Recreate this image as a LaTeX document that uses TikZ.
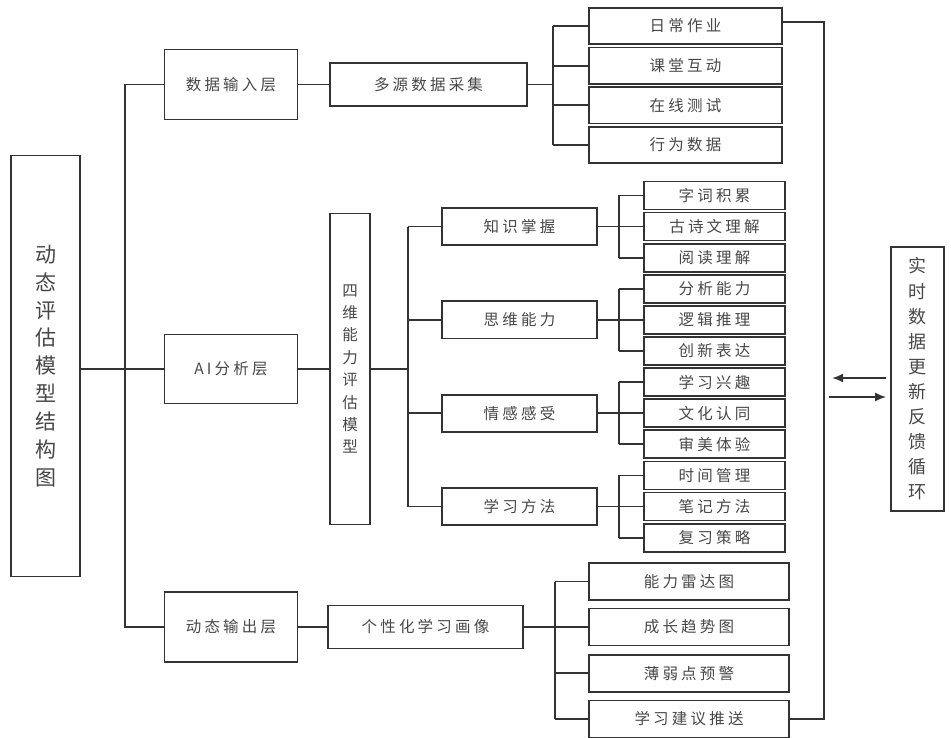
\documentclass[tikz,border=0pt]{standalone}
\usepackage{fontspec}
\setmainfont{Noto Sans CJK SC}
\usetikzlibrary{arrows.meta}
\definecolor{ln}{HTML}{333333}
\definecolor{tx}{HTML}{474747}
\makeatletter
\newcommand\spc[1]{\def\spc@first{1}\@tfor\spc@c:=#1\do{\ifx\spc@first\@empty\kern3.2pt\fi\spc@c\let\spc@first\@empty}}
\makeatother
\begin{document}
\begin{tikzpicture}[x=1pt,y=-1pt,
  box/.style={draw=ln, line width=1.8pt, text=tx, inner sep=0pt, font=\fontsize{15.5}{18}\selectfont},
  vbox/.style={box, align=center},
  conn/.style={draw=ln, line width=1.8pt},
  arr/.style={conn, -{Latex[length=11pt,width=9pt]}}]
\useasboundingbox (0,0) rectangle (951,738);
% root
\node[vbox, minimum width=69pt, minimum height=421pt, font=\fontsize{21}{27.9}\selectfont] (root) at (45.5,366) {动\\态\\评\\估\\模\\型\\结\\构\\图};
% level 1
\node[box, minimum width=133pt, minimum height=70pt] (in1) at (231,84.5) {\spc{数据输入层}};
\node[box, minimum width=133pt, minimum height=69pt] (ai) at (231,369) {\spc{AI分析层}};
\node[box, minimum width=133pt, minimum height=70pt] (out1) at (231,627) {\spc{动态输出层}};
% level 2
\node[box, minimum width=197pt, minimum height=43pt] (ms) at (428.5,84.5) {\spc{多源数据采集}};
\node[vbox, minimum width=40pt, minimum height=311pt, font=\fontsize{15.5}{22.4}\selectfont] (fd) at (350,369) {四\\维\\能\\力\\评\\估\\模\\型};
\node[box, minimum width=195pt, minimum height=43pt] (pers) at (425.5,627) {\spc{个性化学习画像}};
% input items
\node[box, minimum width=193pt, minimum height=36.5pt] (i1) at (685.5,26) {\spc{日常作业}};
\node[box, minimum width=193pt, minimum height=36.5pt] (i2) at (685.5,65.7) {\spc{课堂互动}};
\node[box, minimum width=193pt, minimum height=36.5pt] (i3) at (685.5,105.3) {\spc{在线测试}};
\node[box, minimum width=193pt, minimum height=36.5pt] (i4) at (685.5,145) {\spc{行为数据}};
% groups
\node[box, minimum width=155pt, minimum height=37pt] (g1) at (519.5,226.6) {\spc{知识掌握}};
\node[box, minimum width=155pt, minimum height=37pt] (g2) at (519.5,319.9) {\spc{思维能力}};
\node[box, minimum width=155pt, minimum height=37pt] (g3) at (519.5,413.2) {\spc{情感感受}};
\node[box, minimum width=155pt, minimum height=37pt] (g4) at (519.5,506.5) {\spc{学习方法}};
% sub items
\tikzset{sub/.style={box, minimum width=141pt, minimum height=28pt}}
\node[sub] (s1) at (714.5,195.5) {\spc{字词积累}};
\node[sub] (s2) at (714.5,226.6) {\spc{古诗文理解}};
\node[sub] (s3) at (714.5,257.7) {\spc{阅读理解}};
\node[sub] (s4) at (714.5,288.8) {\spc{分析能力}};
\node[sub] (s5) at (714.5,319.9) {\spc{逻辑推理}};
\node[sub] (s6) at (714.5,351.0) {\spc{创新表达}};
\node[sub] (s7) at (714.5,382.1) {\spc{学习兴趣}};
\node[sub] (s8) at (714.5,413.2) {\spc{文化认同}};
\node[sub] (s9) at (714.5,444.3) {\spc{审美体验}};
\node[sub] (s10) at (714.5,475.4) {\spc{时间管理}};
\node[sub] (s11) at (714.5,506.5) {\spc{笔记方法}};
\node[sub] (s12) at (714.5,537.6) {\spc{复习策略}};
% output items
\tikzset{oit/.style={box, minimum width=200pt, minimum height=37pt}}
\node[oit] (o1) at (689,581.5) {\spc{能力雷达图}};
\node[oit] (o2) at (689,627) {\spc{成长趋势图}};
\node[oit] (o3) at (689,673.2) {\spc{薄弱点预警}};
\node[oit] (o4) at (689,719) {\spc{学习建议推送}};
% feedback box
\node[vbox, minimum width=53pt, minimum height=264pt, font=\fontsize{18}{25.1}\selectfont] (fb) at (917.5,379) {实\\时\\数\\据\\更\\新\\反\\馈\\循\\环};
% bus coordinates
\coordinate (trunk) at (125,0);
\coordinate (ibus) at (553,0);
\coordinate (gbus) at (408,0);
\coordinate (sbus) at (619,0);
\coordinate (obus) at (555,0);
\coordinate (fbx) at (824,0);
\coordinate (la) at (832,378);
\coordinate (ra) at (829,397);
% connectors
\draw[conn] (root.east |- ai.west) -- (ai.west);
\draw[conn] (in1.west) -| (trunk |- ai.west) |- (out1.west);
\draw[conn] (in1.east) -- (ms.west);
\draw[conn] (ms.east) -- (ms.east -| ibus);
\draw[conn] (i1.west -| ibus) -- (i4.west -| ibus);
\foreach \n in {i1,i2,i3,i4} \draw[conn] (\n.west -| ibus) -- (\n.west);
\draw[conn] (ai.east) -- (fd.west);
\draw[conn] (fd.east) -- (fd.east -| gbus);
\draw[conn] (g1.west -| gbus) -- (g4.west -| gbus);
\foreach \n in {g1,g2,g3,g4} \draw[conn] (\n.west -| gbus) -- (\n.west);
\foreach \g/\a/\c in {g1/s1/s3,g2/s4/s6,g3/s7/s9,g4/s10/s12}{
  \draw[conn] (\g.east) -- (\g.east -| sbus);
  \draw[conn] (\a.west -| sbus) -- (\c.west -| sbus);
}
\foreach \n in {s1,s2,s3,s4,s5,s6,s7,s8,s9,s10,s11,s12} \draw[conn] (\n.west -| sbus) -- (\n.west);
\draw[conn] (out1.east) -- (pers.west);
\draw[conn] (pers.east) -- (pers.east -| obus);
\draw[conn] (o1.west -| obus) -- (o4.west -| obus);
\foreach \n in {o1,o2,o3,o4} \draw[conn] (\n.west -| obus) -- (\n.west);
\draw[conn] ([yshift=4pt]i1.east) -| (fbx |- o4.east) -- (o4.east);
\draw[arr] ([xshift=-4pt,yshift=1pt]fb.west) -- (la);
\draw[arr] (ra) -- ([xshift=-4pt,yshift=-18pt]fb.west);
\end{tikzpicture}
\end{document}
